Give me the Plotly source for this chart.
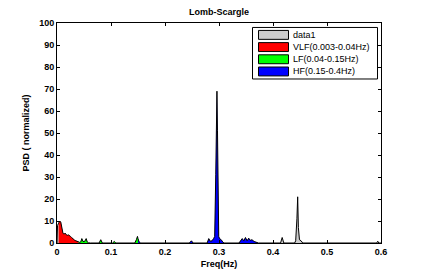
import plotly.graph_objects as go

# ---------------- data ----------------
freq = [0.000, 0.001, 0.003, 0.005, 0.007, 0.009, 0.011, 0.013, 0.015, 0.017,
        0.019, 0.021, 0.023, 0.025, 0.027, 0.029, 0.031, 0.033, 0.035, 0.037,
        0.040, 0.042, 0.044, 0.046, 0.048, 0.050, 0.052, 0.054, 0.056, 0.058,
        0.062, 0.078, 0.081, 0.084, 0.103, 0.106, 0.109, 0.144, 0.147, 0.149,
        0.150, 0.152, 0.155, 0.245, 0.249, 0.252, 0.278, 0.281, 0.284, 0.287,
        0.290, 0.292, 0.294, 0.2962, 0.2972, 0.2985, 0.2995, 0.301, 0.304, 0.307,
        0.309, 0.337, 0.340, 0.343, 0.346, 0.349, 0.352, 0.355, 0.358, 0.361,
        0.365, 0.370, 0.373, 0.400, 0.414, 0.417, 0.420, 0.440, 0.442, 0.4443,
        0.4457, 0.447, 0.449, 0.452, 0.455, 0.592, 0.594, 0.596, 0.600]
psd = [0.0, 8.0, 9.0, 10.0, 9.5, 6.0, 4.5, 4.0, 4.5, 3.8,
       3.5, 3.7, 3.5, 3.0, 2.5, 2.0, 1.5, 1.2, 1.0, 0.8,
       0.6, 0.3, 0.5, 2.0, 0.8, 0.6, 1.0, 2.0, 0.5, 0.1,
       0.0, 0.0, 1.5, 0.0, 0.0, 0.7, 0.0, 0.0, 1.5, 3.0,
       2.0, 0.5, 0.0, 0.0, 1.0, 0.0, 0.0, 2.0, 0.8, 1.0,
       2.0, 3.0, 31.0, 69.0, 51.0, 20.0, 3.0, 2.0, 1.5, 0.5,
       0.0, 0.0, 0.8, 2.0, 1.0, 2.5, 1.0, 2.2, 1.2, 1.5,
       0.7, 0.3, 0.0, 0.0, 0.0, 2.5, 0.0, 0.0, 1.0, 11.0,
       21.0, 7.0, 1.5, 1.0, 0.0, 0.0, 0.8, 0.0, 0.0]

band_names = ["VLF(0.003-0.04Hz)", "LF(0.04-0.15Hz)", "HF(0.15-0.4Hz)"]
band_lo = [0.003, 0.04, 0.15]
band_hi = [0.04, 0.15, 0.4]
band_colors = ["#ff0000", "#00ff00", "#0000ff"]
all_name = "data1"
all_color = "#cccccc"

x_ticks = [0, 0.1, 0.2, 0.3, 0.4, 0.5, 0.6]
x_tick_text = ["0", "0.1", "0.2", "0.3", "0.4", "0.5", "0.6"]
y_ticks = [0, 10, 20, 30, 40, 50, 60, 70, 80, 90, 100]

# ---------------- figure ----------------
W, H = 424, 279
L, R, T, B = 57, 381, 23, 245

fig = go.Figure()

# full spectrum (gray)
fig.add_trace(go.Scatter(x=freq, y=psd, mode="lines", fill="tozeroy",
                         fillcolor=all_color, line=dict(width=0, color=all_color),
                         showlegend=False, hoverinfo="skip"))
# bands
for name, lo, hi, col in zip(band_names, band_lo, band_hi, band_colors):
    bx = [f for f in freq if lo <= f <= hi]
    by = [p for f, p in zip(freq, psd) if lo <= f <= hi]
    fig.add_trace(go.Scatter(x=bx, y=by, mode="lines", fill="tozeroy",
                             fillcolor=col, line=dict(width=0, color=col),
                             showlegend=False, hoverinfo="skip"))
# black edge line
fig.add_trace(go.Scatter(x=freq, y=psd, mode="lines",
                         line=dict(width=1, color="black"),
                         showlegend=False, hoverinfo="skip", cliponaxis=False))

font_fam = "Liberation Sans, Arial, Helvetica, sans-serif"

fig.update_layout(
    width=W, height=H,
    margin=dict(l=L, r=W - R, t=T, b=H - B, pad=0),
    paper_bgcolor="white", plot_bgcolor="white",
    font=dict(family=font_fam, size=9, color="black"),
    title=dict(text="<b>Lomb-Scargle</b>", x=(L + R) / 2 / W, xanchor="center",
               y=1 - 12 / H, yanchor="middle", font=dict(size=9, family=font_fam)),
)
fig.update_xaxes(range=[0, 0.6], tickvals=x_ticks, ticktext=x_tick_text,
                 showgrid=False, zeroline=False, showline=True, linecolor="black",
                 linewidth=1, mirror="ticks", ticks="inside", ticklen=3,
                 tickcolor="black", tickfont=dict(size=9, weight="bold"),
                 title=dict(text="<b>Freq(Hz)</b>", standoff=4, font=dict(size=9)))
fig.update_yaxes(range=[0, 100], tickvals=y_ticks,
                 showgrid=False, zeroline=False, showline=True, linecolor="black",
                 linewidth=1, mirror="ticks", ticks="inside", ticklen=3,
                 tickcolor="black", tickfont=dict(size=9, weight="bold"),
                 title=dict(text="<b>PSD ( normalized)</b>", standoff=8, font=dict(size=9)))

# legend drawn manually
def px(xp):
    return (xp - L) / (R - L)

def py(yp):
    return (B - yp) / (B - T)

fig.add_shape(type="rect", xref="paper", yref="paper",
              x0=px(252.5), x1=px(377.5), y0=py(79.5), y1=py(27.5),
              line=dict(color="black", width=1), fillcolor="white", layer="above")
leg_names = [all_name] + band_names
leg_cols = [all_color] + band_colors
for i, (n, c) in enumerate(zip(leg_names, leg_cols)):
    cy = 35.0 + i * 12.3
    fig.add_shape(type="rect", xref="paper", yref="paper",
                  x0=px(258.5), x1=px(288.5), y0=py(cy + 4.5), y1=py(cy - 4.5),
                  line=dict(color="black", width=1), fillcolor=c, layer="above")
    fig.add_annotation(text=n, xref="paper", yref="paper", x=px(290.5), y=py(cy),
                       xanchor="left", yanchor="middle", showarrow=False,
                       font=dict(size=9, family=font_fam, color="black"))

fig.write_html("out.html")
